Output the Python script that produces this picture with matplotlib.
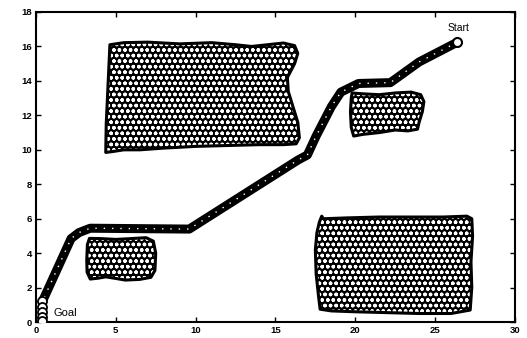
import matplotlib
matplotlib.use("Agg")
import matplotlib.pyplot as plt
from matplotlib.patches import Polygon

plt.rcParams['font.family'] = ['Liberation Sans', 'DejaVu Sans']
plt.rcParams['hatch.linewidth'] = 1.0

# ---- data ----
path_x = [26.4, 24.0, 22.2, 20.2, 19.1, 18.5, 17.55, 17.0, 16.4, 9.6, 3.4, 2.7, 2.2, 0.55, 0.4]
path_y = [16.25, 15.1, 13.9, 13.85, 13.35, 12.5, 10.8, 9.7, 9.4, 5.4, 5.45, 5.2, 4.85, 1.5, 1.2]
goal_x = [0.4, 0.4, 0.4, 0.4, 0.4]
goal_y = [1.2, 0.9, 0.6, 0.3, 0.05]

obsA_x = [4.63, 5.5, 7.0, 9.0, 11.0, 12.5, 13.5, 14.5, 15.5, 16.2, 16.4, 16.2, 15.75, 15.8, 16.1, 16.4, 16.5, 16.3,
          15.5, 14.0, 12.0, 10.0, 8.0, 6.5, 5.5, 4.8, 4.37, 4.4, 4.5, 4.6]
obsA_y = [16.1, 16.22, 16.25, 16.15, 16.22, 16.1, 16.0, 16.1, 16.2, 16.05, 15.6, 15.0, 14.2, 13.4, 12.5, 11.6, 10.7, 10.35,
          10.3, 10.3, 10.25, 10.2, 10.1, 10.0, 10.0, 9.9, 9.85, 11.5, 13.5, 15.5]

obsB_x = [19.8, 20.5, 21.5, 22.5, 23.5, 24.1, 24.3, 24.2, 24.0, 23.9, 23.3, 22.5, 21.5, 20.5, 19.9, 19.75, 19.7, 19.75]
obsB_y = [13.3, 13.25, 13.2, 13.3, 13.35, 13.2, 12.8, 12.2, 11.6, 11.2, 11.1, 11.15, 11.0, 10.9, 10.8, 11.3, 12.2, 13.0]

obsC_x = [17.9, 18.0, 19.5, 21.5, 23.5, 25.5, 27.0, 27.3, 27.35, 27.25, 27.3, 27.2, 26.0, 24.0, 22.0, 20.0, 18.5, 17.8,
          17.7, 17.55, 17.5, 17.6, 17.75]
obsC_y = [6.15, 6.0, 6.05, 6.1, 6.1, 6.1, 6.15, 6.0, 5.0, 3.5, 2.0, 0.7, 0.5, 0.5, 0.55, 0.6, 0.65, 0.75,
          1.5, 2.8, 4.2, 5.2, 5.8]

obsD_x = [3.35, 4.0, 5.0, 6.0, 6.9, 7.35, 7.5, 7.45, 7.2, 6.5, 5.6, 4.9, 4.37, 3.9, 3.4, 3.2, 3.18, 3.22]
obsD_y = [4.86, 4.85, 4.8, 4.85, 4.9, 4.7, 4.0, 3.0, 2.6, 2.48, 2.44, 2.55, 2.63, 2.55, 2.5, 2.9, 3.6, 4.5]

x_ticks = [0, 5, 10, 15, 20, 25, 30]
y_ticks = [0, 2, 4, 6, 8, 10, 12, 14, 16, 18]

# ---- figure ----
fig = plt.figure(figsize=(5.27, 3.38), dpi=100)
ax = fig.add_axes([0.0683, 0.047, 0.9087, 0.9175])
ax.set_xlim(0, 30)
ax.set_ylim(0, 18)

for ox, oy in [(obsA_x, obsA_y), (obsB_x, obsB_y), (obsC_x, obsC_y), (obsD_x, obsD_y)]:
    pts = list(zip(ox, oy))
    ax.add_patch(Polygon(pts, closed=True, facecolor='black', edgecolor='white',
                         hatch='ooo', linewidth=0, zorder=1))
    ax.add_patch(Polygon(pts, closed=True, facecolor='none', edgecolor='black',
                         linewidth=2.2, joinstyle='round', zorder=2))

ax.plot(path_x, path_y, color='black', linewidth=6.5, solid_capstyle='round',
        solid_joinstyle='round', zorder=3)
ax.plot(path_x, path_y, color='white', linewidth=1.0, linestyle=(0, (1, 5)), zorder=4)
ax.plot(goal_x, goal_y, linestyle='none', marker='o', markersize=6.5,
        markerfacecolor='white', markeredgecolor='black', markeredgewidth=1.3, zorder=4)
ax.plot(path_x[:1], path_y[:1], linestyle='none', marker='o', markersize=6.5,
        markerfacecolor='white', markeredgecolor='black', markeredgewidth=1.5, zorder=5)

ax.text(26.5, 17.05, 'Start', fontsize=7.5, ha='center', va='center')
ax.text(1.1, 0.5, 'Goal', fontsize=8, ha='left', va='center')

ax.set_xticks(x_ticks)
ax.set_yticks(y_ticks)
ax.tick_params(direction='in', length=3.5, width=1.0, top=True, right=True,
               labelsize=6.8, pad=3)
for lab in ax.get_xticklabels() + ax.get_yticklabels():
    lab.set_fontweight('bold')
for s in ax.spines.values():
    s.set_linewidth(1.5)

fig.savefig('out.png', dpi=100)
